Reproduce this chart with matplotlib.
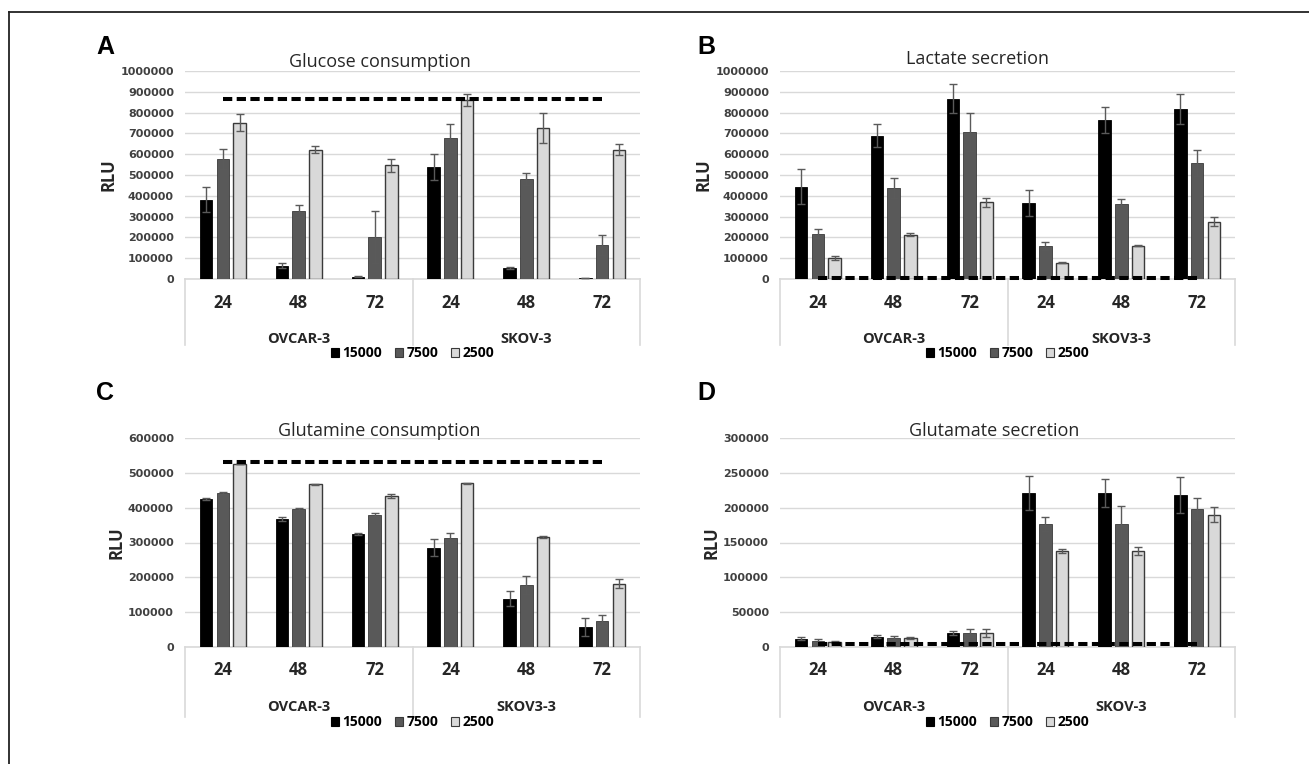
import matplotlib
matplotlib.use("Agg")
import matplotlib.pyplot as plt
import matplotlib.transforms as mtransforms
from matplotlib.patches import Patch
from matplotlib.lines import Line2D
import numpy as np

# ---------------- data ----------------
time_labels = ["24", "48", "72", "24", "48", "72"]
series_labels = ["15000", "7500", "2500"]

groups_A = ["OVCAR-3", "SKOV-3"]
groups_B = ["OVCAR-3", "SKOV3-3"]
groups_C = ["OVCAR-3", "SKOV3-3"]
groups_D = ["OVCAR-3", "SKOV-3"]

titles = ["Glucose consumption", "Lactate secretion", "Glutamine consumption", "Glutamate secretion"]
panel_letters = ["A", "B", "C", "D"]

glucose_15000 = [380000, 64000, 11000, 540000, 53000, 5000]
glucose_7500 = [577000, 328000, 200000, 679000, 481000, 165000]
glucose_2500 = [752000, 622000, 546000, 861000, 724000, 622000]
glucose_err_15000 = [60000, 12000, 2000, 63000, 3000, 1000]
glucose_err_7500 = [50000, 30000, 125000, 67000, 30000, 48000]
glucose_err_2500 = [42000, 18000, 30000, 30000, 72000, 27000]
glucose_control = 867000

lactate_15000 = [444000, 689000, 867000, 365000, 764000, 817000]
lactate_7500 = [218000, 436000, 707000, 159000, 361000, 559000]
lactate_2500 = [102000, 213000, 369000, 78000, 160000, 276000]
lactate_err_15000 = [85000, 56000, 69000, 61000, 61000, 71000]
lactate_err_7500 = [22000, 48000, 91000, 19000, 25000, 63000]
lactate_err_2500 = [9000, 8000, 22000, 3000, 3000, 22000]
lactate_control = 6000

glutamine_15000 = [424000, 367000, 324000, 285000, 139000, 57000]
glutamine_7500 = [441000, 396000, 380000, 314000, 179000, 76000]
glutamine_2500 = [525000, 467000, 433000, 470000, 317000, 181000]
glutamine_err_15000 = [3000, 5000, 3000, 24000, 22000, 26000]
glutamine_err_7500 = [3000, 3000, 5000, 13000, 26000, 15000]
glutamine_err_2500 = [1000, 1000, 5000, 1000, 3000, 13000]
glutamine_control = 530000

glutamate_15000 = [12000, 15000, 20000, 221000, 221000, 218000]
glutamate_7500 = [9000, 13000, 20000, 177000, 177000, 198000]
glutamate_2500 = [7000, 13000, 20000, 138000, 138000, 190000]
glutamate_err_15000 = [2000, 2000, 3000, 24000, 20000, 26000]
glutamate_err_7500 = [2000, 3000, 6000, 10000, 26000, 16000]
glutamate_err_2500 = [1000, 1000, 6000, 3000, 6000, 11000]
glutamate_control = 5000

# ---------------- style ----------------
W, H = 1309, 764
fig = plt.figure(figsize=(W / 100, H / 100), dpi=100)
fig.patch.set_facecolor("white")

bar_colors = ["#000000", "#595959", "#d9d9d9"]
edge_colors = ["#000000", "#3a3a3a", "#3a3a3a"]
grid_col = "#d9d9d9"
txt_col = "#262626"
tick_col = "#404040"
FONT = "Open Sans"


def px_axes(x0, y0, x1, y1):
    return fig.add_axes([x0 / W, 1 - y1 / H, (x1 - x0) / W, (y1 - y0) / H])


def draw_panel(box, ymax, ystep, s1, s2, s3, e1, e2, e3, control, groups,
               title, title_xy, letter, letter_xy, lab_offsets):
    x0, y0, x1, y1 = box
    ax = px_axes(x0, y0, x1, y1)
    ax_h = y1 - y0
    n = len(time_labels)
    x = np.arange(n)
    width = 0.165
    offs = [-0.22, 0.0, 0.22]
    for s, (vals, errs) in enumerate([(s1, e1), (s2, e2), (s3, e3)]):
        ax.bar(x + offs[s], vals, width, color=bar_colors[s], edgecolor=edge_colors[s],
               linewidth=1.0 if s == 2 else 0.6, zorder=3, label=series_labels[s])
        ax.errorbar(x + offs[s], vals, yerr=errs, fmt="none", ecolor="#5a5a5a",
                    elinewidth=1.0, capsize=3, capthick=1.0, zorder=4)
    ax.plot([x[0], x[-1]], [control, control], color="black", lw=2.9,
            dashes=(2.3, 1.1), dash_capstyle="butt", zorder=5, clip_on=False)
    ax.set_xlim(-0.5, n - 0.5)
    ax.set_ylim(0, ymax)
    ax.set_yticks(np.arange(0, ymax + 1, ystep))
    ax.set_yticklabels([f"{int(v)}" for v in np.arange(0, ymax + 1, ystep)],
                       fontsize=8, fontweight="bold", color=tick_col, family="DejaVu Sans")
    ax.tick_params(axis="y", length=0, pad=8)
    ax.set_xticks([])
    ax.grid(axis="y", color=grid_col, lw=1.0, zorder=0)
    for sp in ax.spines.values():
        sp.set_visible(False)
    ax.set_ylabel("RLU", fontsize=12, fontweight="bold", color=txt_col, family=FONT, labelpad=2)

    trans = mtransforms.blended_transform_factory(ax.transData, ax.transAxes)
    t_off, g_off, sep_off, leg_off = lab_offsets
    # baseline & separators
    ax.add_line(Line2D([-0.5, n - 0.5], [0, 0], transform=trans, color=grid_col, lw=1.2,
                       clip_on=False, zorder=2))
    for xs in [-0.5, 2.5, 5.5]:
        ax.add_line(Line2D([xs, xs], [0, -sep_off / ax_h], transform=trans, color=grid_col,
                           lw=1.2, clip_on=False))
    for i, lab in enumerate(time_labels):
        ax.text(i, -t_off / ax_h, lab, transform=trans, ha="center", va="center",
                fontsize=12, fontweight="bold", color=txt_col, family=FONT)
    for gi, g in enumerate(groups):
        ax.text(1 + 3 * gi, -g_off / ax_h, g, transform=trans, ha="center", va="center",
                fontsize=10.5, fontweight="bold", color=txt_col, family=FONT)
    handles = [Patch(facecolor=bar_colors[i], edgecolor=edge_colors[i], lw=0.8) for i in range(3)]
    ax.legend(handles, series_labels, loc="center", bbox_to_anchor=(0.5, -leg_off / ax_h),
              ncol=3, frameon=False, handlelength=0.6, handleheight=0.6,
              handletextpad=0.25, columnspacing=0.9, borderaxespad=0,
              prop={"family": FONT, "weight": "bold", "size": 10})
    fig.text(title_xy[0] / W, 1 - title_xy[1] / H, title, ha="center", va="center",
             fontsize=13, color=txt_col, family=FONT)
    fig.text(letter_xy[0] / W, 1 - letter_xy[1] / H, letter, ha="center", va="center",
             fontsize=18, fontweight="bold", color="black", family="Liberation Sans")
    return ax


draw_panel((185, 71, 640, 279), 1000000, 100000,
           glucose_15000, glucose_7500, glucose_2500,
           glucose_err_15000, glucose_err_7500, glucose_err_2500,
           glucose_control, groups_A, titles[0], (380, 62), panel_letters[0], (105, 47),
           (24, 60, 66, 74))
draw_panel((780, 71, 1235, 279), 1000000, 100000,
           lactate_15000, lactate_7500, lactate_2500,
           lactate_err_15000, lactate_err_7500, lactate_err_2500,
           lactate_control, groups_B, titles[1], (977, 59), panel_letters[1], (706, 47),
           (24, 60, 66, 74))
draw_panel((185, 438, 640, 647), 600000, 100000,
           glutamine_15000, glutamine_7500, glutamine_2500,
           glutamine_err_15000, glutamine_err_7500, glutamine_err_2500,
           glutamine_control, groups_C, titles[2], (379, 431), panel_letters[2], (105, 393),
           (23, 60, 70, 75))
draw_panel((780, 438, 1235, 647), 300000, 50000,
           glutamate_15000, glutamate_7500, glutamate_2500,
           glutamate_err_15000, glutamate_err_7500, glutamate_err_2500,
           glutamate_control, groups_D, titles[3], (994, 431), panel_letters[3], (706, 393),
           (23, 60, 70, 75))

# outer frame (left and top edges visible)
fig.add_artist(Line2D([9 / W, 9 / W], [0, 1 - 12 / H], color="#222222", lw=1.3))
fig.add_artist(Line2D([9 / W, 1], [1 - 12 / H, 1 - 12 / H], color="#222222", lw=1.3))

fig.savefig("out.png", dpi=100, facecolor="white")
